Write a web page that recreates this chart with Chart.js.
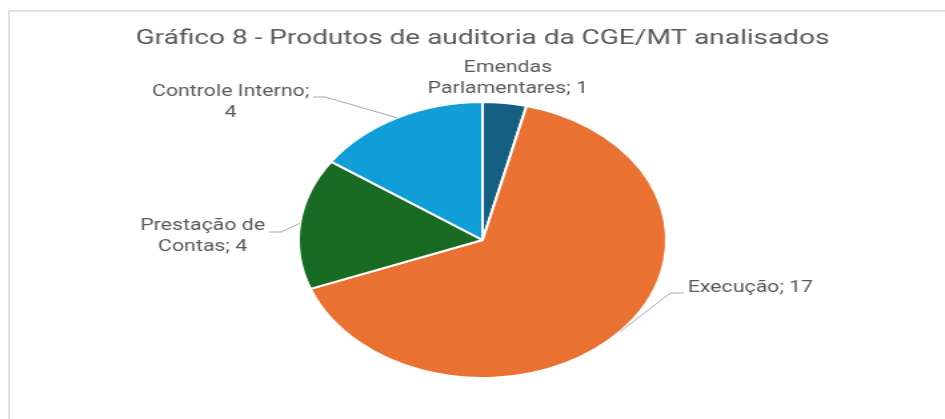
<!DOCTYPE html>
<html>
<head>
<meta charset="utf-8">
<script src="https://cdn.jsdelivr.net/npm/chart.js@4.4.0/dist/chart.umd.min.js"></script>
<style>
  html, body { margin: 0; padding: 0; background: #fff; overflow: hidden; }
  #frame {
    position: absolute; left: 8px; top: 10px; right: -5px; bottom: -5px;
    border-top: 2px solid #e1e1e1; border-left: 2px solid #e1e1e1;
  }
  #wrap {
    position: absolute; left: 0; top: 0; width: 709px; height: 419px;
    transform: scaleX(1.3329); transform-origin: 0 0;
  }
</style>
</head>
<body>
<div id="frame"></div>
<div id="wrap"><canvas id="pieChart" width="709" height="419"></canvas></div>
<script>
// Data
const chartTitle = 'Gráfico 8 - Produtos de auditoria da CGE/MT analisados';
const categories = ['Emendas Parlamentares', 'Execução', 'Prestação de Contas', 'Controle Interno'];
const values = [1, 17, 4, 4];
const sliceColors = ['#156082', '#E97132', '#196B24', '#0F9ED5'];

// Label placement (canvas coords, before horizontal stretch)
const labelLayout = [
    { x: 381, y: 68, words: 1, leader: false },
    { x: 563, y: 288, words: 99, leader: true, side: 'left' },
    { x: 152, y: 226, words: 2, leader: true, side: 'right', dy: 6 },
    { x: 173, y: 92, words: 2, leader: true, side: 'right', dy: 5 }
];

const textColor = '#595959';
const leaderColor = '#a6a6a6';

const pieLabels = {
    id: 'pieLabels',
    afterDraw(chart) {
        const ctx = chart.ctx;
        const meta = chart.getDatasetMeta(0);
        ctx.save();

        // Title
        ctx.fillStyle = textColor;
        ctx.font = '21px Roboto';
        ctx.textAlign = 'center';
        ctx.textBaseline = 'middle';
        ctx.fillText(chartTitle, 362, 39);

        ctx.font = '16px Roboto';
        meta.data.forEach((arc, i) => {
            const p = arc.getProps(['x', 'y', 'startAngle', 'endAngle', 'outerRadius'], true);
            const mid = (p.startAngle + p.endAngle) / 2;
            const ax = p.x + Math.cos(mid) * p.outerRadius;
            const ay = p.y + Math.sin(mid) * p.outerRadius;

            const words = (categories[i] + '; ' + values[i]).split(' ');
            const lay = labelLayout[i];
            const lines = [words.slice(0, lay.words).join(' ')];
            if (words.length > lay.words) lines.push(words.slice(lay.words).join(' '));

            ctx.fillStyle = textColor;
            lines.forEach((ln, k) => ctx.fillText(ln, lay.x, lay.y + k * 21));

            if (lay.leader) {
                const w = ctx.measureText(lines[0]).width;
                const ly = lay.y + (lay.dy || 5);
                const sx = lay.side === 'right' ? lay.x + w / 2 + 3 : lay.x - w / 2 - 3;
                const ex = lay.side === 'right' ? sx + 9 : sx - 10;
                ctx.strokeStyle = leaderColor;
                ctx.lineWidth = 1;
                ctx.beginPath();
                ctx.moveTo(sx, ly);
                ctx.lineTo(ex, ly);
                ctx.lineTo(ax, ay);
                ctx.stroke();
            }
        });
        ctx.restore();
    }
};

new Chart(document.getElementById('pieChart').getContext('2d'), {
    type: 'pie',
    data: {
        labels: categories,
        datasets: [{
            data: values,
            backgroundColor: sliceColors,
            borderColor: '#ffffff',
            borderWidth: 2
        }]
    },
    options: {
        responsive: false,
        animation: false,
        layout: { padding: { top: 101, bottom: 40, left: 220, right: 205 } },
        plugins: {
            legend: { display: false },
            tooltip: { enabled: false }
        }
    },
    plugins: [pieLabels]
});
</script>
</body>
</html>
